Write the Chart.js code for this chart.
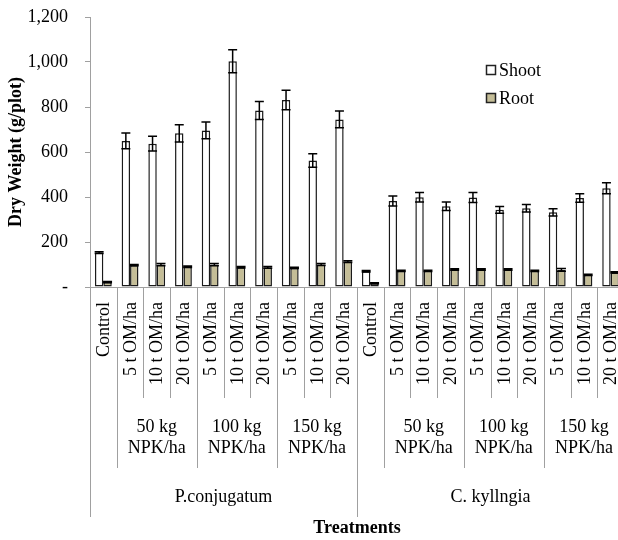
<!DOCTYPE html>
<html>
<head>
<meta charset="utf-8">
<script src="https://cdn.jsdelivr.net/npm/chart.js@4/dist/chart.umd.min.js"></script>
<style>
  html, body { margin: 0; padding: 0; background: #fff; overflow: hidden; width: 618px; height: 540px; }
  canvas { display: block; }
</style>
</head>
<body>
<canvas id="c" width="630" height="540" style="width:630px;height:540px"></canvas>
<script>
// Treatment labels (innermost category level)
const treatments = [
  'Control', '5 t OM/ha', '10 t OM/ha', '20 t OM/ha',
  '5 t OM/ha', '10 t OM/ha', '20 t OM/ha',
  '5 t OM/ha', '10 t OM/ha', '20 t OM/ha',
  'Control', '5 t OM/ha', '10 t OM/ha', '20 t OM/ha',
  '5 t OM/ha', '10 t OM/ha', '20 t OM/ha',
  '5 t OM/ha', '10 t OM/ha', '20 t OM/ha'
];
// NPK rate for each treatment ('' = none)
const npkRates = [
  '', '50 kg', '50 kg', '50 kg', '100 kg', '100 kg', '100 kg', '150 kg', '150 kg', '150 kg',
  '', '50 kg', '50 kg', '50 kg', '100 kg', '100 kg', '100 kg', '150 kg', '150 kg', '150 kg'
];
const npkUnit = 'NPK/ha';
// Weed species for each treatment
const species = [
  'P.conjugatum', 'P.conjugatum', 'P.conjugatum', 'P.conjugatum', 'P.conjugatum',
  'P.conjugatum', 'P.conjugatum', 'P.conjugatum', 'P.conjugatum', 'P.conjugatum',
  'C. kyllngia', 'C. kyllngia', 'C. kyllngia', 'C. kyllngia', 'C. kyllngia',
  'C. kyllngia', 'C. kyllngia', 'C. kyllngia', 'C. kyllngia', 'C. kyllngia'
];

// Dry weight (g/plot)
const shoot    = [153, 649, 637, 683, 696, 1003, 785, 831, 562, 745,
                  70, 382, 399, 359, 398, 343, 350, 332, 396, 439];
const shootErr = [4, 35, 33, 38, 37, 51, 40, 43, 30, 37,
                  3, 22, 21, 19, 22, 15, 17, 16, 19, 24];
const root     = [22, 97, 100, 90, 100, 88, 87, 85, 100, 113,
                  17, 72, 72, 78, 78, 78, 72, 76, 54, 65];
const rootErr  = [3, 3, 5, 3, 5, 3, 4, 3, 4, 4,
                  2, 3, 3, 3, 3, 3, 3, 6, 3, 3];

const seriesNames = ['Shoot', 'Root'];
const yTicksMax = 1200;
const yTickStep = 200;
const xTitle = 'Treatments';
const yTitle = 'Dry Weight (g/plot)';

const FONT = "'Liberation Serif', 'Times New Roman', serif";
const errorSets = [shootErr, rootErr];

// Error bars drawn through the value scale
const errorBars = {
  id: 'errorBars',
  afterDatasetsDraw(chart) {
    const { ctx, scales: { y } } = chart;
    ctx.save();
    ctx.strokeStyle = '#000';
    ctx.lineWidth = 1.5;
    chart.data.datasets.forEach((ds, di) => {
      const errs = errorSets[di];
      chart.getDatasetMeta(di).data.forEach((bar, i) => {
        const v = ds.data[i], e = errs[i];
        const yt = y.getPixelForValue(v + e);
        const yb = y.getPixelForValue(v - e);
        const cx = bar.x, hw = 4.5;
        ctx.beginPath();
        ctx.moveTo(cx, yt); ctx.lineTo(cx, yb);
        ctx.moveTo(cx - hw, yt); ctx.lineTo(cx + hw, yt);
        ctx.moveTo(cx - hw, yb); ctx.lineTo(cx + hw, yb);
        ctx.stroke();
      });
    });
    ctx.restore();
  }
};

// Multi-level category axis, axis titles and legend
const decor = {
  id: 'decor',
  afterDraw(chart) {
    const { ctx, chartArea: a, scales: { x } } = chart;
    const n = treatments.length;
    const w = (x.right - x.left) / n;
    const edge = i => x.left + i * w;
    const base = a.bottom;
    const depths = [111, 181, 230];

    ctx.save();
    // separators between categories
    ctx.strokeStyle = '#a0a0a0';
    ctx.lineWidth = 1;
    for (let i = 0; i <= n; i++) {
      let lvl;
      if (i === 0 || i === n || species[i] !== species[i - 1]) lvl = 2;
      else if (npkRates[i] !== npkRates[i - 1]) lvl = 1;
      else lvl = 0;
      const px = Math.round(edge(i)) + 0.5;
      ctx.beginPath();
      ctx.moveTo(px, base);
      ctx.lineTo(px, base + depths[lvl]);
      ctx.stroke();
    }

    ctx.fillStyle = '#000';
    ctx.font = `18px ${FONT}`;
    // rotated treatment labels
    for (let i = 0; i < n; i++) {
      const cx = x.getPixelForValue(i);
      ctx.save();
      ctx.translate(cx + 1, base + 15);
      ctx.rotate(-Math.PI / 2);
      ctx.textAlign = 'right';
      ctx.textBaseline = 'middle';
      ctx.fillText(treatments[i], 0, 0);
      ctx.restore();
    }

    // NPK group labels
    ctx.textAlign = 'center';
    ctx.textBaseline = 'middle';
    let s = 0;
    for (let i = 1; i <= n; i++) {
      if (i === n || npkRates[i] !== npkRates[s] || species[i] !== species[s]) {
        if (npkRates[s]) {
          const cx = (edge(s) + edge(i)) / 2;
          ctx.fillText(npkRates[s], cx, base + 140);
          ctx.fillText(npkUnit, cx, base + 161);
        }
        s = i;
      }
    }
    // species labels
    s = 0;
    for (let i = 1; i <= n; i++) {
      if (i === n || species[i] !== species[s]) {
        ctx.fillText(species[s], (edge(s) + edge(i)) / 2, base + 210);
        s = i;
      }
    }

    // axis titles
    ctx.font = `bold 18px ${FONT}`;
    ctx.fillText(xTitle, (a.left + a.right) / 2, base + 241);
    ctx.save();
    ctx.translate(16.5, (a.top + a.bottom) / 2);
    ctx.rotate(-Math.PI / 2);
    ctx.fillText(yTitle, 0, 0);
    ctx.restore();

    // legend
    ctx.font = `18px ${FONT}`;
    ctx.textAlign = 'left';
    chart.data.datasets.forEach((ds, di) => {
      const cy = 70 + di * 28;
      ctx.fillStyle = ds.backgroundColor;
      ctx.fillRect(486, cy - 5, 10, 10);
      ctx.strokeStyle = '#222';
      ctx.lineWidth = 1.5;
      ctx.strokeRect(486.5, cy - 4.5, 9, 9);
      ctx.fillStyle = '#000';
      ctx.fillText(ds.label, 499, cy + 1);
    });
    ctx.restore();
  }
};

new Chart(document.getElementById('c'), {
  type: 'bar',
  data: {
    labels: treatments,
    datasets: [
      { label: seriesNames[0], data: shoot, backgroundColor: '#ffffff', borderColor: '#1a1a1a',
        borderWidth: 1.5, borderSkipped: false },
      { label: seriesNames[1], data: root, backgroundColor: '#C4BD97', borderColor: '#1a1a1a',
        borderWidth: 1.5, borderSkipped: false }
    ]
  },
  options: {
    responsive: false,
    animation: false,
    devicePixelRatio: 1,
    categoryPercentage: 0.63,
    barPercentage: 1.0,
    layout: { padding: { top: 17, right: 6, left: 0, bottom: 0 } },
    plugins: { legend: { display: false }, tooltip: { enabled: false } },
    scales: {
      x: {
        grid: { display: false },
        border: { display: true, color: '#a0a0a0', width: 1 },
        ticks: { display: false },
        afterFit(scale) { scale.height = 253; }
      },
      y: {
        min: 0,
        max: yTicksMax,
        grid: { drawOnChartArea: false, drawTicks: true, tickLength: 5, color: '#a0a0a0' },
        border: { display: true, color: '#a0a0a0', width: 1 },
        ticks: {
          stepSize: yTickStep,
          padding: 17,
          color: '#000',
          font: { family: FONT, size: 18 },
          callback: v => v === 0 ? '-' : v.toLocaleString('en-US')
        },
        afterFit(scale) {
          scale.width = 90;
          scale.paddingTop = 0;
          scale.paddingBottom = 0;
        }
      }
    }
  },
  plugins: [errorBars, decor]
});
</script>
</body>
</html>
